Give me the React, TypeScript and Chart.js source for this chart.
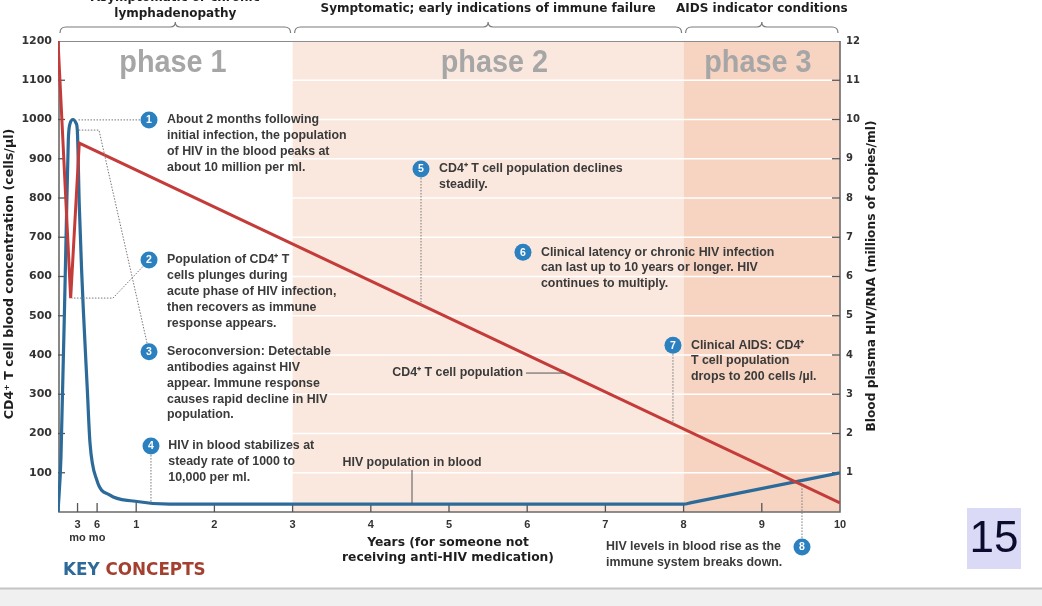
import React, { useEffect, useRef } from "react";
import { Chart, registerables } from "chart.js";

Chart.register(...registerables);

// ---------- data ----------
const cd4Years = [0, 0.162, 0.272, 10];
const cd4Cells = [1200, 545, 940, 23];

const hivYears = [0, 0.038, 0.102, 0.132, 0.153, 0.192, 0.23, 0.247, 0.272, 0.303, 0.324, 0.375, 0.409, 0.495, 0.665, 0.96, 1.43, 8, 8.1, 10];
const hivMillions = [0, 1.4, 6.9, 9.48, 9.89, 10.0, 9.91, 9.73, 7.82, 6.11, 5.15, 3.11, 1.76, 0.82, 0.43, 0.28, 0.2, 0.2, 0.24, 1.0];

const xTickValues = [0.25, 0.5, 1, 2, 3, 4, 5, 6, 7, 8, 9, 10];
const xTickLabels: (string | string[])[] = [["3", "mo"], ["6", "mo"], "1", "2", "3", "4", "5", "6", "7", "8", "9", "10"];

const phaseStarts = [0, 3, 8];
const phaseEnds = [3, 8, 10];
const phaseNames = ["phase 1", "phase 2", "phase 3"];
const phaseLabelYears = [1.47, 5.58, 8.95];
const phaseColors = ["#ffffff", "#fae8de", "#f6d4c1"];
const phaseHeaders = [
  ["Asymptomatic or chronic", "lymphadenopathy"],
  ["Symptomatic; early indications of immune failure"],
  ["AIDS indicator conditions"],
];

const annotationNumbers = ["1", "2", "3", "4", "5", "6", "7", "8"];
const annotationYears = [1.164, 1.164, 1.164, 1.189, 4.642, 5.946, 7.864, 9.514];
const annotationCells = [999, 642, 408, 168, 874, 662, 425, -89];
const annotationTextYears = [1.394, 1.394, 1.394, 1.41, 4.872, 6.176, 8.094, 7.008];
const annotationTexts = [
  ["About 2 months following", "initial infection, the population", "of HIV in the blood peaks at", "about 10 million per ml."],
  ["Population of CD4\u207A T", "cells plunges during", "acute phase of HIV infection,", "then recovers as immune", "response appears."],
  ["Seroconversion: Detectable", "antibodies against HIV", "appear. Immune response", "causes rapid decline in HIV", "population."],
  ["HIV in blood stabilizes at", "steady rate of 1000 to", "10,000 per ml."],
  ["CD4\u207A T cell population declines", "steadily."],
  ["Clinical latency or chronic HIV infection", "can last up to 10 years or longer. HIV", "continues to multiply."],
  ["Clinical AIDS: CD4\u207A", "T cell population", "drops to 200 cells /\u00B5l."],
  ["HIV levels in blood rise as the", "immune system breaks down."],
];
const annotationLeaders: number[][][] = [
  [[0.256, 999]],
  [[0.703, 545], [0.179, 545]],
  [[0.524, 973], [0.269, 973]],
  [[1.189, 23]],
  [[4.642, 528]],
  [],
  [[7.864, 224]],
  [[9.514, 72]],
];

const cd4LabelText = "CD4\u207A T cell population";
const cd4LabelYear = 5.946;
const cd4LabelCells = 354;
const cd4LabelLeaderEndYear = 6.489;

const hivLabelText = "HIV population in blood";
const hivLabelYear = 4.527;
const hivLabelCells = 125;
const hivLabelLeaderTopCells = 107;
const hivLabelLeaderBottomMillions = 0.2;

const leftTitle = "CD4\u207A T cell blood concentration (cells/\u03BCl)";
const rightTitle = "Blood plasma HIV/RNA (millions of copies/ml)";
const xTitle = ["Years (for someone not", "receiving anti-HIV medication)"];

// ---------- styles ----------
const RED = "#c43c3a";
const BLUE = "#2c6b99";
const CIRCLE = "#2b80c0";
const HEAVY = (s: number) => `bold ${s}px 'DejaVu Sans', sans-serif`;
const ANNOT_FONT = "bold 12.4px 'Liberation Sans', Arial, sans-serif";
const ANNOT_COLOR = "#3a3a3a";
const LINE_H = 15.8;

function brace(ctx: CanvasRenderingContext2D, x0: number, x1: number, cx: number, y: number) {
  ctx.beginPath();
  ctx.moveTo(x0, y + 6);
  ctx.quadraticCurveTo(x0, y, x0 + 6, y);
  ctx.lineTo(cx - 5, y);
  ctx.quadraticCurveTo(cx, y, cx, y - 5);
  ctx.quadraticCurveTo(cx, y, cx + 5, y);
  ctx.lineTo(x1 - 6, y);
  ctx.quadraticCurveTo(x1, y, x1, y + 6);
  ctx.stroke();
}

const overlay = {
  id: "overlay",
  beforeDatasetsDraw(chart: any) {
    const { ctx, chartArea: a, scales } = chart;
    const x = scales.x, y = scales.y, y1 = scales.y1;
    ctx.save();
    // phase backgrounds
    phaseStarts.forEach((s, i) => {
      const l = x.getPixelForValue(s);
      const r = x.getPixelForValue(phaseEnds[i]);
      ctx.fillStyle = phaseColors[i];
      ctx.fillRect(l, a.top, r - l, a.bottom - a.top);
    });
    // white grid lines
    ctx.strokeStyle = "#ffffff";
    ctx.lineWidth = 1.5;
    y.ticks.forEach((t: any) => {
      if (t.value <= 0 || t.value >= 1200) return;
      const py = y.getPixelForValue(t.value);
      ctx.beginPath();
      ctx.moveTo(a.left, py);
      ctx.lineTo(a.right, py);
      ctx.stroke();
    });
    // frame
    ctx.lineWidth = 1;
    ctx.strokeStyle = "#8c8c8c";
    ctx.beginPath();
    ctx.moveTo(a.left, a.top + 0.5);
    ctx.lineTo(a.right, a.top + 0.5);
    ctx.stroke();
    ctx.lineWidth = 1.6;
    ctx.strokeStyle = "#6a6a6a";
    ctx.beginPath();
    ctx.moveTo(a.left + 1, a.top);
    ctx.lineTo(a.left + 1, a.bottom);
    ctx.lineTo(a.right, a.bottom);
    ctx.lineTo(a.right, a.top);
    ctx.stroke();
    // inward ticks
    ctx.strokeStyle = "#555";
    ctx.lineWidth = 1.3;
    y.ticks.forEach((t: any) => {
      if (t.value <= 0 || t.value >= 1200) return;
      const py = y.getPixelForValue(t.value);
      ctx.beginPath();
      ctx.moveTo(a.left, py);
      ctx.lineTo(a.left + 7, py);
      ctx.stroke();
    });
    y1.ticks.forEach((t: any) => {
      if (t.value <= 0 || t.value >= 12) return;
      const py = y1.getPixelForValue(t.value);
      ctx.beginPath();
      ctx.moveTo(a.right, py);
      ctx.lineTo(a.right - 8, py);
      ctx.stroke();
    });
    x.ticks.forEach((t: any) => {
      if (t.value >= 10) return;
      const px = x.getPixelForValue(t.value);
      ctx.beginPath();
      ctx.moveTo(px, a.bottom);
      ctx.lineTo(px, a.bottom - 9);
      ctx.stroke();
    });
    ctx.restore();
  },
  afterDatasetsDraw(chart: any) {
    const { ctx, chartArea: a, scales } = chart;
    const x = scales.x, y = scales.y, y1 = scales.y1;
    const W = chart.width;
    ctx.save();

    // phase names
    ctx.fillStyle = "#a6a6a6";
    ctx.font = "bold 31px 'Liberation Sans', Arial, sans-serif";
    ctx.textAlign = "center";
    ctx.textBaseline = "alphabetic";
    phaseNames.forEach((n, i) => {
      ctx.save();
      ctx.translate(x.getPixelForValue(phaseLabelYears[i]), a.top + 31);
      ctx.scale(0.93, 1);
      ctx.fillText(n, 0, 0);
      ctx.restore();
    });

    // braces + header texts
    ctx.strokeStyle = "#7a7a7a";
    ctx.lineWidth = 1.2;
    ctx.fillStyle = "#1e1e1e";
    ctx.font = HEAVY(12);
    ctx.textBaseline = "middle";
    phaseStarts.forEach((s, i) => {
      const l = x.getPixelForValue(s) + 2;
      const r = x.getPixelForValue(phaseEnds[i]) - 2;
      const c = x.getPixelForValue((s + phaseEnds[i]) / 2);
      brace(ctx, l, r, c, a.top - 14);
      const lines = phaseHeaders[i];
      const lastY = lines.length > 1 ? a.top - 27 : a.top - 32;
      lines.forEach((t, k) => {
        ctx.fillText(t, c, lastY - (lines.length - 1 - k) * 16);
      });
    });

    // leaders (dotted)
    ctx.setLineDash([1.5, 1.5]);
    ctx.strokeStyle = "#777";
    ctx.lineWidth = 1;
    annotationLeaders.forEach((pts, i) => {
      if (!pts.length) return;
      ctx.beginPath();
      ctx.moveTo(x.getPixelForValue(annotationYears[i]), y.getPixelForValue(annotationCells[i]));
      pts.forEach((p) => ctx.lineTo(x.getPixelForValue(p[0]), y.getPixelForValue(p[1])));
      ctx.stroke();
    });
    ctx.setLineDash([]);

    // label leaders (solid)
    ctx.strokeStyle = "#555";
    ctx.lineWidth = 1;
    const cly = y.getPixelForValue(cd4LabelCells);
    ctx.beginPath();
    ctx.moveTo(x.getPixelForValue(cd4LabelYear) + 3, cly);
    ctx.lineTo(x.getPixelForValue(cd4LabelLeaderEndYear), cly);
    ctx.stroke();
    const hlx = x.getPixelForValue(hivLabelYear);
    ctx.beginPath();
    ctx.moveTo(hlx, y.getPixelForValue(hivLabelLeaderTopCells));
    ctx.lineTo(hlx, y1.getPixelForValue(hivLabelLeaderBottomMillions));
    ctx.stroke();

    // annotation circles and texts
    annotationNumbers.forEach((n, i) => {
      const cx = x.getPixelForValue(annotationYears[i]);
      const cy = y.getPixelForValue(annotationCells[i]);
      ctx.beginPath();
      ctx.arc(cx, cy, 8.5, 0, Math.PI * 2);
      ctx.fillStyle = CIRCLE;
      ctx.fill();
      ctx.fillStyle = "#ffffff";
      ctx.font = "bold 10.5px 'Liberation Sans', Arial, sans-serif";
      ctx.textAlign = "center";
      ctx.textBaseline = "middle";
      ctx.fillText(n, cx, cy + 0.5);
      ctx.fillStyle = ANNOT_COLOR;
      ctx.font = ANNOT_FONT;
      ctx.textAlign = "left";
      const tx = x.getPixelForValue(annotationTextYears[i]);
      annotationTexts[i].forEach((t, k) => ctx.fillText(t, tx, cy + k * LINE_H));
    });

    // series labels
    ctx.fillStyle = ANNOT_COLOR;
    ctx.font = ANNOT_FONT;
    ctx.textAlign = "right";
    ctx.fillText(cd4LabelText, x.getPixelForValue(cd4LabelYear), cly);
    ctx.textAlign = "center";
    ctx.fillText(hivLabelText, hlx, y.getPixelForValue(hivLabelCells));

    // axis titles
    ctx.fillStyle = "#1e1e1e";
    ctx.textAlign = "center";
    ctx.textBaseline = "middle";
    ctx.font = HEAVY(12.6);
    ctx.save();
    ctx.translate(10, 274);
    ctx.rotate(-Math.PI / 2);
    ctx.fillText(leftTitle, 0, 0);
    ctx.restore();
    ctx.font = HEAVY(12.2);
    ctx.save();
    ctx.translate(a.right + 32, 276);
    ctx.rotate(-Math.PI / 2);
    ctx.fillText(rightTitle, 0, 0);
    ctx.restore();
    ctx.font = HEAVY(12.3);
    const xtc = x.getPixelForValue(5) - 1;
    xTitle.forEach((t, k) => ctx.fillText(t, xtc, a.bottom + 31 + k * 14.5));

    // KEY CONCEPTS
    ctx.font = HEAVY(16.8);
    ctx.textAlign = "left";
    ctx.fillStyle = "#2e6a99";
    ctx.fillText("KEY ", 63, 571);
    const kw = ctx.measureText("KEY ").width;
    ctx.fillStyle = "#a4402f";
    ctx.fillText("CONCEPTS", 63 + kw, 571);

    // slide number box
    ctx.fillStyle = "#dadaf6";
    ctx.fillRect(967, 508, 54, 61);
    ctx.fillStyle = "#0b0b2e";
    ctx.font = "44px 'Liberation Sans', Arial, sans-serif";
    ctx.textAlign = "center";
    ctx.fillText("15", 994, 540);

    // bottom strip
    ctx.fillStyle = "#f0f0f0";
    ctx.fillRect(0, 589, W, 17);
    ctx.fillStyle = "#c4c4c4";
    ctx.fillRect(0, 587.5, W, 2);
    ctx.restore();
  },
};

export default function App() {
  const ref = useRef<HTMLCanvasElement>(null);
  useEffect(() => {
    const canvas = ref.current!;
    const tickFont = (s: number, fam = "'DejaVu Sans', sans-serif") => ({ family: fam, weight: "bold" as const, size: s });
    const chart = new Chart(canvas, {
      type: "line",
      data: {
        datasets: [
          {
            label: "CD4+ T cell population",
            data: cd4Years.map((v, i) => ({ x: v, y: cd4Cells[i] })),
            yAxisID: "y",
            borderColor: RED,
            borderWidth: 3,
            pointRadius: 0,
            tension: 0,
          },
          {
            label: "HIV population in blood",
            data: hivYears.map((v, i) => ({ x: v, y: hivMillions[i] })),
            yAxisID: "y1",
            borderColor: BLUE,
            borderWidth: 3.2,
            pointRadius: 0,
            cubicInterpolationMode: "monotone",
          },
        ],
      },
      options: {
        responsive: false,
        animation: false,
        events: [],
        layout: { padding: { top: 41, left: 0, right: 0, bottom: 0 } },
        plugins: { legend: { display: false }, tooltip: { enabled: false } },
        scales: {
          x: {
            type: "linear",
            min: 0,
            max: 10,
            afterBuildTicks: (s: any) => {
              s.ticks = xTickValues.map((v) => ({ value: v }));
            },
            afterFit: (s: any) => {
              s.height = 94;
            },
            ticks: {
              autoSkip: false,
              maxRotation: 0,
              padding: 6,
              color: "#333",
              font: tickFont(11, "'Liberation Sans', Arial, sans-serif"),
              callback: (v: any) => {
                const i = xTickValues.indexOf(Number(v));
                return i >= 0 ? xTickLabels[i] : "";
              },
            },
            grid: { display: false, drawTicks: false },
            border: { display: false },
          },
          y: {
            type: "linear",
            position: "left",
            min: 0,
            max: 1200,
            afterFit: (s: any) => {
              s.width = 58;
            },
            ticks: {
              stepSize: 100,
              padding: 6,
              color: "#333",
              font: tickFont(11),
              callback: (v: any) => (Number(v) === 0 ? "" : String(v)),
            },
            grid: { display: false, drawTicks: false },
            border: { display: false },
          },
          y1: {
            type: "linear",
            position: "right",
            min: 0,
            max: 12,
            afterFit: (s: any) => {
              s.width = 202;
            },
            ticks: {
              stepSize: 1,
              padding: 6,
              color: "#333",
              font: tickFont(10),
              callback: (v: any) => (Number(v) === 0 ? "" : String(v)),
            },
            grid: { display: false, drawTicks: false },
            border: { display: false },
          },
        },
      },
      plugins: [overlay],
    } as any);
    return () => chart.destroy();
  }, []);
  return (
    <div style={{ position: "fixed", left: 0, top: 0, width: 1042, height: 606, background: "#ffffff", overflow: "hidden" }}>
      <canvas ref={ref} width={1042} height={606} style={{ display: "block", width: 1042, height: 606 }} />
    </div>
  );
}
